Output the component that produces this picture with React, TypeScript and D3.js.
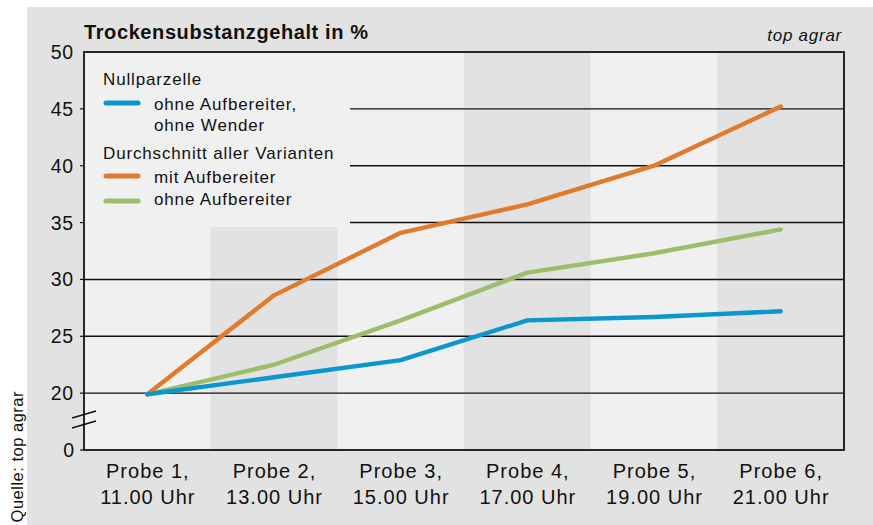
import React from "react";
import * as d3 from "d3";

const probes = ["Probe 1,", "Probe 2,", "Probe 3,", "Probe 4,", "Probe 5,", "Probe 6,"];
const times = ["11.00 Uhr", "13.00 Uhr", "15.00 Uhr", "17.00 Uhr", "19.00 Uhr", "21.00 Uhr"];
const nullparzelle = [19.9, 21.4, 22.9, 26.4, 26.7, 27.2];
const mitAufbereiter = [19.9, 28.6, 34.1, 36.6, 40.0, 45.2];
const ohneAufbereiter = [19.9, 22.5, 26.4, 30.6, 32.3, 34.4];
const gridValues = [20, 25, 30, 35, 40, 45];
const tickValues = [20, 25, 30, 35, 40, 45, 50];
const zeroPos = 15; // broken axis: "0" drawn where 15 would be
const zeroLabel = "0";

const FONT = "'Liberation Sans', Arial, Helvetica, sans-serif";
const C_BLUE = "#0a97d0";
const C_ORANGE = "#e07a2e";
const C_GREEN = "#9dbd6b";
const BG = "#e2e2e2";
const LIGHT = "#f0f0f0";

export default function App() {
  const W = 873, H = 525;
  const left = 84, right = 844, top = 52, bottom = 450;
  const x = d3.scaleBand<string>().domain(probes).range([left, right]);
  const y = d3.scaleLinear().domain([zeroPos, 50]).range([bottom, top]);
  const cx = (i: number) => (x(probes[i]) as number) + x.bandwidth() / 2;
  const line = d3
    .line<number>()
    .x((_, i) => cx(i))
    .y((d) => y(d));

  const legendRight = 350;
  const legendBottom = 227;

  const series = [
    { data: mitAufbereiter, color: C_ORANGE },
    { data: ohneAufbereiter, color: C_GREEN },
    { data: nullparzelle, color: C_BLUE },
  ];

  return (
    <svg width={W} height={H} style={{ position: "absolute", left: 0, top: 0, display: "block" }}>
      <rect x={0} y={0} width={W} height={H} fill="#ffffff" />
      <rect x={27} y={7} width={W - 27} height={H - 7} fill={BG} />
      {/* column bands */}
      {probes.map((p, i) => (
        <rect
          key={p}
          x={x(p) as number}
          y={top}
          width={x.bandwidth()}
          height={bottom - top}
          fill={i % 2 === 0 ? LIGHT : BG}
        />
      ))}
      {/* legend background */}
      <rect x={left} y={top} width={legendRight - left} height={legendBottom - top} fill={LIGHT} />
      {/* grid lines */}
      {gridValues.map((v) => {
        const yy = y(v);
        const x0 = yy < legendBottom ? legendRight : left;
        return <line key={v} x1={x0} x2={right} y1={yy} y2={yy} stroke="#111" strokeWidth={1.4} />;
      })}
      {/* y ticks */}
      {[zeroPos, ...gridValues].map((v) => (
        <line key={"t" + v} x1={left - 4} x2={left} y1={y(v)} y2={y(v)} stroke="#111" strokeWidth={1.2} />
      ))}
      {/* frame */}
      <rect x={left} y={top} width={right - left} height={bottom - top} fill="none" stroke="#111" strokeWidth={1.8} />
      {/* break marks */}
      <line x1={72} y1={418} x2={96} y2={411} stroke="#111" strokeWidth={1.5} />
      <line x1={72} y1={428} x2={96} y2={421} stroke="#111" strokeWidth={1.5} />
      {/* series */}
      {series.map((s, k) => (
        <path
          key={k}
          d={line(s.data) || ""}
          fill="none"
          stroke={s.color}
          strokeWidth={4.4}
          strokeLinejoin="round"
          strokeLinecap="round"
        />
      ))}
      {/* y labels */}
      {tickValues.map((v) => (
        <text key={"l" + v} x={74} y={y(v) + 7} textAnchor="end" fontFamily={FONT} fontSize={19.5} letterSpacing={0.8} fill="#111">
          {v}
        </text>
      ))}
      <text x={74} y={y(zeroPos) + 7} textAnchor="end" fontFamily={FONT} fontSize={19.5} fill="#111">
        {zeroLabel}
      </text>
      {/* x labels */}
      {probes.map((p, i) => (
        <g key={"x" + p}>
          <text x={cx(i) + 0.5} y={478} textAnchor="middle" fontFamily={FONT} fontSize={20} letterSpacing={1} fill="#111">
            {p}
          </text>
          <text x={cx(i) + 0.5} y={504} textAnchor="middle" fontFamily={FONT} fontSize={20} letterSpacing={1} fill="#111">
            {times[i]}
          </text>
        </g>
      ))}
      {/* title */}
      <text x={84} y={39} fontFamily={FONT} fontWeight="bold" fontSize={20} letterSpacing={0.6} fill="#111">
        Trockensubstanzgehalt in %
      </text>
      <text x={842} y={41} textAnchor="end" fontFamily={FONT} fontStyle="italic" fontSize={17} letterSpacing={0.75} fill="#111">
        top agrar
      </text>
      {/* legend */}
      <g fontFamily={FONT} fontSize={17} letterSpacing={0.85} fill="#111">
        <text x={103} y={85}>Nullparzelle</text>
        <line x1={106} x2={138} y1={103} y2={103} stroke={C_BLUE} strokeWidth={5} strokeLinecap="round" />
        <text x={154} y={110}>ohne Aufbereiter,</text>
        <text x={154} y={131}>ohne Wender</text>
        <text x={103} y={159}>Durchschnitt aller Varianten</text>
        <line x1={106} x2={138} y1={176} y2={176} stroke={C_ORANGE} strokeWidth={5} strokeLinecap="round" />
        <text x={154} y={183}>mit Aufbereiter</text>
        <line x1={106} x2={138} y1={201} y2={201} stroke={C_GREEN} strokeWidth={5} strokeLinecap="round" />
        <text x={154} y={205}>ohne Aufbereiter</text>
      </g>
      {/* source */}
      <text
        transform="translate(23,391) rotate(-90)"
        textAnchor="end"
        fontFamily={FONT}
        fontSize={16.5}
        letterSpacing={0.5}
        fill="#111"
      >
        Quelle: top agrar
      </text>
    </svg>
  );
}
